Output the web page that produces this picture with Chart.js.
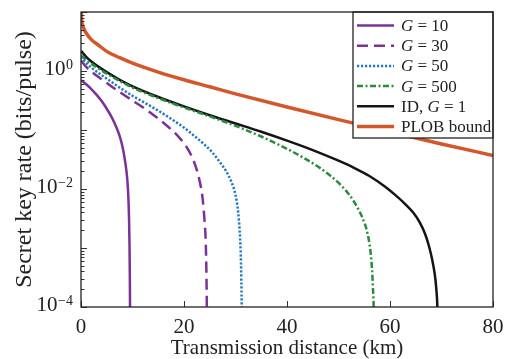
<!DOCTYPE html>
<html>
<head>
<meta charset="utf-8">
<script src="https://cdn.jsdelivr.net/npm/chart.js@4.4.0/dist/chart.umd.min.js"></script>
<style>
  html, body { margin: 0; padding: 0; background: #fff; }
  #wrap { width: 508px; height: 359px; }
</style>
</head>
<body>
<div id="wrap"><canvas id="keyRateChart" width="508" height="359"></canvas></div>
<script>
// values (distance in km, rate in bits/pulse)
const g10Dist = [0, 1, 2, 3, 4, 5, 6, 6.8, 7.5, 8.1, 8.6, 9.0, 9.2, 9.33, 9.42, 9.48, 9.52, 9.55];
const g10Rate = [0.7, 0.596, 0.495, 0.398, 0.309, 0.229, 0.162, 0.115, 0.0794, 0.0501, 0.0282, 0.0141, 0.00708, 0.00316, 0.00112, 0.000355, 0.0001, 0.00001];

const g30Dist = [0, 1, 2, 4, 6, 8, 10, 12, 14, 16, 17.5, 19, 20.2, 21.3, 22.2, 23, 23.6, 24.0, 24.2, 24.33, 24.42, 24.48];
const g30Rate = [1.5, 1.175, 0.977, 0.724, 0.543, 0.412, 0.316, 0.243, 0.182, 0.133, 0.102, 0.0759, 0.0562, 0.0389, 0.0251, 0.0141, 0.00708, 0.00282, 0.00141, 0.0005, 0.000126, 0.0000316];

const g50Dist = [0, 1, 2, 4, 6, 8, 10, 12, 14, 16, 18, 20, 22, 24, 25.5, 27, 28.2, 29.2, 30, 30.5, 30.8, 31.0, 31.12, 31.2, 31.25];
const g50Rate = [1.75, 1.38, 1.148, 0.851, 0.646, 0.49, 0.38, 0.302, 0.24, 0.188, 0.1445, 0.11, 0.0794, 0.0562, 0.0417, 0.0282, 0.02, 0.0132, 0.00794, 0.00417, 0.002, 0.00089, 0.000316, 0.0001, 0.00001];

const g500Dist = [0, 1, 2, 3, 5, 7.5, 10, 15, 20, 25, 30, 35, 40, 43, 46, 48.5, 50.5, 52.2, 53.6, 54.7, 55.6, 56.2, 56.5, 56.7, 56.85, 56.95];
const g500Rate = [1.82, 1.55, 1.333, 1.161, 0.902, 0.676, 0.525, 0.347, 0.24, 0.17, 0.1175, 0.0776, 0.0479, 0.0347, 0.024, 0.0166, 0.0115, 0.00776, 0.005, 0.00316, 0.00182, 0.00089, 0.000447, 0.0002, 0.000079, 0.00001];

const idDist = [0, 1, 2, 3, 5, 7.5, 10, 15, 20, 25, 30, 35, 40, 45, 50, 53, 56, 59, 61, 63, 64.5, 65.8, 66.8, 67.6, 68.2, 68.7, 69.0, 69.2, 69.3, 69.35];
const idRate = [2.19, 1.74, 1.445, 1.245, 0.955, 0.708, 0.55, 0.363, 0.251, 0.178, 0.129, 0.0933, 0.0661, 0.0457, 0.0302, 0.0229, 0.0166, 0.011, 0.00794, 0.0055, 0.00398, 0.00269, 0.00174, 0.00105, 0.00063, 0.000355, 0.0002, 0.0001, 0.00004, 0.00001];

const plobDist = [0, 0.1, 0.3, 0.6, 1, 2, 3.5, 5, 7.5, 10, 15, 20, 25, 30, 40, 50, 60, 70, 80];
const plobRate = [20, 7.8, 6.1, 5.1, 4.4, 3.4, 2.7, 2.15, 1.68, 1.36, 0.96, 0.71, 0.54, 0.41, 0.245, 0.15, 0.093, 0.058, 0.037];

const legendLabels = ['G = 10', 'G = 30', 'G = 50', 'G = 500', 'ID, G = 1', 'PLOB bound'];
const xTickValues = [0, 20, 40, 60, 80];
const yLabelExponents = [0, -2, -4];
const yDecades = [-4, -3, -2, -1, 0];

const FONT = '"Liberation Serif", "Times New Roman", serif';

const toPoints = (xs, ys) => xs.map((x, i) => ({ x, y: ys[i] }));

const series = [
    { label: legendLabels[0], data: toPoints(g10Dist, g10Rate), borderColor: '#7a3296', borderWidth: 2.5, borderDash: [] },
    { label: legendLabels[1], data: toPoints(g30Dist, g30Rate), borderColor: '#7a3296', borderWidth: 2.5, borderDash: [11, 6] },
    { label: legendLabels[2], data: toPoints(g50Dist, g50Rate), borderColor: '#2277c0', borderWidth: 2.5, borderDash: [2.2, 1.8] },
    { label: legendLabels[3], data: toPoints(g500Dist, g500Rate), borderColor: '#2b8a3c', borderWidth: 2.5, borderDash: [6, 2.5, 2, 2.5] },
    { label: legendLabels[4], data: toPoints(idDist, idRate), borderColor: '#141414', borderWidth: 2.5, borderDash: [] },
    { label: legendLabels[5], data: toPoints(plobDist, plobRate), borderColor: '#d4572b', borderWidth: 3.5, borderDash: [] }
];

const drawMixedLabel = (ctx, text, x, y) => {
    // italic G, everything else upright
    text.split(/(G)/).filter(p => p.length).forEach(part => {
        ctx.font = (part === 'G' ? 'italic ' : '') + '17px ' + FONT;
        ctx.fillText(part, x, y);
        x += ctx.measureText(part).width;
    });
};

const frameAndLegend = {
    id: 'frameAndLegend',
    afterDraw(chart) {
        const { ctx, chartArea: a, scales: { x, y } } = chart;
        ctx.save();

        // legend box, top right inside the plot
        const lx = 353, ly = a.top, lw = a.right - 353, lh = 126;
        ctx.fillStyle = '#fff';
        ctx.fillRect(lx, ly, lw, lh);
        ctx.strokeStyle = '#222';
        ctx.lineWidth = 1.3;
        ctx.strokeRect(lx, ly, lw, lh);
        ctx.textAlign = 'left';
        ctx.textBaseline = 'middle';
        chart.data.datasets.forEach((ds, i) => {
            const ry = ly + 13.5 + i * 20.2;
            ctx.strokeStyle = ds.borderColor;
            ctx.lineWidth = ds.borderWidth;
            ctx.setLineDash(ds.borderDash);
            ctx.beginPath();
            ctx.moveTo(lx + 4, ry);
            ctx.lineTo(lx + 41, ry);
            ctx.stroke();
            ctx.setLineDash([]);
            ctx.fillStyle = '#222';
            drawMixedLabel(ctx, ds.label, lx + 48, ry + 1);
        });

        // inward tick marks
        ctx.strokeStyle = '#333';
        ctx.lineWidth = 1;
        y.ticks.forEach(t => {
            const lg = Math.log10(t.value);
            const major = Math.abs(lg - Math.round(lg)) < 1e-9;
            const py = Math.round(y.getPixelForValue(t.value)) + 0.5;
            ctx.beginPath();
            ctx.moveTo(a.left, py);
            ctx.lineTo(a.left + (major ? 6 : 3.5), py);
            ctx.stroke();
        });
        xTickValues.forEach(v => {
            const px = Math.round(x.getPixelForValue(v)) + 0.5;
            ctx.beginPath();
            ctx.moveTo(px, a.bottom);
            ctx.lineTo(px, a.bottom - 6);
            ctx.stroke();
        });

        // frame
        ctx.strokeStyle = '#222';
        ctx.lineWidth = 1.3;
        ctx.strokeRect(a.left, a.top, a.right - a.left, a.bottom - a.top);

        // y tick labels as 10 with a raised exponent
        ctx.fillStyle = '#222';
        ctx.textAlign = 'right';
        ctx.textBaseline = 'middle';
        yLabelExponents.forEach(e => {
            const py = y.getPixelForValue(Math.pow(10, e));
            const sup = e === 0 ? '0' : '\u2212' + (-e);
            ctx.font = '14px ' + FONT;
            ctx.fillText(sup, a.left - 8, py - 6);
            const w = ctx.measureText(sup).width;
            ctx.font = '21px ' + FONT;
            ctx.fillText('10', a.left - 8 - w - 0.5, py - 1.5);
        });
        ctx.restore();
    }
};

const yTicks = [];
yDecades.forEach(e => {
    for (let k = 1; k <= 9; k++) yTicks.push(k * Math.pow(10, e));
});
yTicks.push(10);

new Chart(document.getElementById('keyRateChart'), {
    type: 'line',
    data: {
        datasets: series.map(s => ({
            label: s.label,
            data: s.data,
            borderColor: s.borderColor,
            borderWidth: s.borderWidth,
            borderDash: s.borderDash,
            pointRadius: 0,
            fill: false,
            cubicInterpolationMode: 'monotone',
            clip: 0
        }))
    },
    options: {
        responsive: false,
        animation: false,
        layout: { padding: { left: 0, right: 15, top: 12, bottom: 0 } },
        plugins: {
            legend: { display: false },
            tooltip: { enabled: false }
        },
        scales: {
            x: {
                type: 'linear',
                min: 0,
                max: 80,
                grid: { display: false },
                border: { display: false },
                ticks: {
                    stepSize: 20,
                    padding: 0,
                    color: '#222',
                    font: { family: FONT, size: 21 }
                },
                title: {
                    display: true,
                    text: 'Transmission distance (km)',
                    color: '#222',
                    font: { family: FONT, size: 21, lineHeight: 1.0 },
                    padding: { top: 0, bottom: 0 }
                },
                afterFit: (scale) => { scale.height = 52; }
            },
            y: {
                type: 'logarithmic',
                min: 1e-4,
                max: 10,
                grid: { display: false },
                border: { display: false },
                ticks: { display: false },
                afterBuildTicks: (scale) => { scale.ticks = yTicks.map(v => ({ value: v })); },
                title: {
                    display: true,
                    text: 'Secret key rate (bits/pulse)',
                    color: '#222',
                    font: { family: FONT, size: 24 },
                    padding: { top: 10, bottom: 0 }
                },
                afterFit: (scale) => { scale.width = 81; }
            }
        }
    },
    plugins: [frameAndLegend]
});
</script>
</body>
</html>
